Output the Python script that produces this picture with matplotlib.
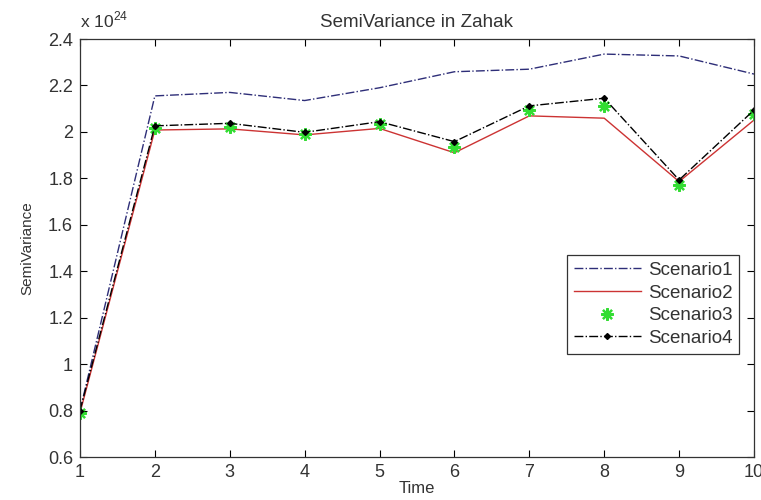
import matplotlib
matplotlib.use("Agg")
import matplotlib.pyplot as plt
from matplotlib.ticker import FuncFormatter

# values, in units of 1e24
time = [1, 2, 3, 4, 5, 6, 7, 8, 9, 10]
scenario1 = [0.80, 2.155, 2.17, 2.135, 2.19, 2.259, 2.27, 2.335, 2.327, 2.249]
scenario2 = [0.79, 2.008, 2.013, 1.987, 2.015, 1.91, 2.069, 2.059, 1.786, 2.051]
scenario3 = [0.79, 2.015, 2.022, 1.99, 2.035, 1.936, 2.094, 2.112, 1.771, 2.077]
scenario4 = [0.80, 2.026, 2.037, 1.998, 2.044, 1.958, 2.112, 2.145, 1.793, 2.094]
yticks = [0.6, 0.8, 1.0, 1.2, 1.4, 1.6, 1.8, 2.0, 2.2, 2.4]
scale = 1e24

plt.rcParams['font.family'] = ['Liberation Sans', 'DejaVu Sans']
plt.rcParams['mathtext.fontset'] = 'custom'
plt.rcParams['mathtext.rm'] = 'Liberation Sans'

def big(v):
    return [x * scale for x in v]

fig = plt.figure(figsize=(7.61, 5.0), dpi=100)
ax = fig.add_axes([0.1051, 0.086, 0.8857, 0.836])

ax.plot(time, big(scenario1), color="#2e2e78", linestyle="-.", linewidth=1.0, label="Scenario1")
ax.plot(time, big(scenario2), color="#cc3333", linestyle="-", linewidth=1.0, label="Scenario2")
ax.plot(time, big(scenario3), color="#33dd33", linestyle="none", marker=(8, 2, 0),
        markersize=9, markeredgewidth=1.6, label="Scenario3")
ax.plot(time, big(scenario4), color="black", linestyle="-.", linewidth=1.0,
        marker="D", markersize=3, label="Scenario4")

ax.set_xlim(1, 10)
ax.set_ylim(0.6 * scale, 2.4 * scale)
ax.set_xticks(time)
ax.set_yticks(big(yticks))
ax.yaxis.set_major_formatter(FuncFormatter(lambda v, p: "%g" % round(v / scale, 2)))

ax.tick_params(direction="in", top=True, right=True, labelsize=13, length=5, pad=5,
               labelcolor="#333333")
for sp in ax.spines.values():
    sp.set_linewidth(0.9)
    sp.set_color("#333333")

ax.text(0.0, 1.02, "x 10$^{24}$", transform=ax.transAxes, fontsize=12.5,
        ha="left", va="bottom", color="#333333")

ax.set_title("SemiVariance in Zahak", fontsize=13.5, pad=8.5, color="#333333")
ax.set_xlabel("Time", fontsize=12, labelpad=0, color="#333333")
ax.set_ylabel("SemiVariance", fontsize=11, labelpad=10, color="#333333")

leg = ax.legend(loc="upper left", bbox_to_anchor=(0.7226, 0.483), fontsize=13.5,
                fancybox=False, framealpha=1, edgecolor="#333333",
                handlelength=3.6, handletextpad=0.35, borderpad=0.35,
                labelspacing=0.3, borderaxespad=0)
leg.get_frame().set_linewidth(0.9)
for t in leg.get_texts():
    t.set_color("#333333")

fig.savefig("out.png", dpi=100)
